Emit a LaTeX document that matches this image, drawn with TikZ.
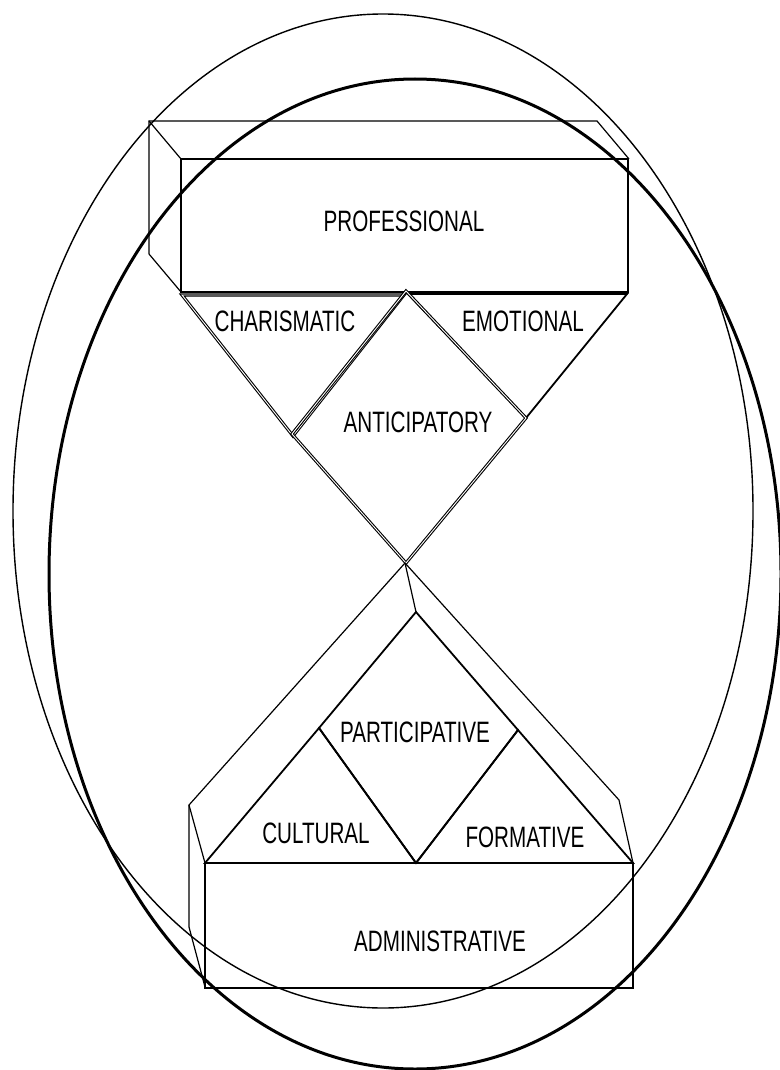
\documentclass[tikz,border=0pt]{standalone}
\usepackage{fontspec}
\newfontfamily\narrowsans[FakeStretch=0.7]{Liberation Sans}
\tikzset{
  lbl/.style={font=\narrowsans\fontsize{29.5}{30}\selectfont, inner sep=0pt},
  thinline/.style={line width=1.2pt, line join=miter},
  boxline/.style={line width=1.8pt, line join=miter},
  dblline/.style={line width=1.1pt, double, double distance=0.9pt, line join=miter},
}
\begin{document}
\begin{tikzpicture}[x=1pt,y=-1pt]
\useasboundingbox (0,0) rectangle (779,1070);
% Ellipses
\draw[line width=1.4pt] (383,511) ellipse [x radius=370pt, y radius=497pt];
\draw[line width=3pt] (415,574) ellipse [x radius=366pt, y radius=495pt];
% Upper block
\draw[thinline] (149,254) -- (149,121) -- (597,121) -- (629,159);
\draw[thinline] (149,121) -- (181,159);
\draw[thinline] (149,254) -- (181,292);
\draw[boxline] (181,159) rectangle (628,292);
\node[lbl] (prof) at (404,221) {PROFESSIONAL};
% Upper triangle
\draw[dblline] (182,295) -- (404,295) -- (293,436) -- cycle;
\draw[boxline] (408,294) -- (627,294) -- (526,418) -- cycle;
\draw[dblline] (406,291) -- (526,418) -- (406,563) -- (292,434) -- cycle;
\node[lbl] (char) at (285,321) {CHARISMATIC};
\node[lbl] (emot) at (523,321) {EMOTIONAL};
\node[lbl] (anti) at (418,422) {ANTICIPATORY};
% Lower block
\draw[thinline] (189,927) -- (189,805) -- (405,563) -- (619,800) -- (633,863);
\draw[thinline] (189,805) -- (205,863);
\draw[thinline] (189,927) -- (205,987);
\draw[thinline] (405,563) -- (416,612);
\draw[boxline] (205,863) -- (319,728) -- (416,863) -- cycle;
\draw[boxline] (416,863) -- (518,730) -- (633,863) -- cycle;
\draw[boxline] (416,612) -- (518,730) -- (416,863) -- (319,728) -- cycle;
\draw[boxline] (205,863) rectangle (633,988);
\node[lbl] (part) at (415,732) {PARTICIPATIVE};
\node[lbl] (cult) at (316,833) {CULTURAL};
\node[lbl] (form) at (525,837) {FORMATIVE};
\node[lbl] (admin) at (440,941) {ADMINISTRATIVE};
\end{tikzpicture}
\end{document}
